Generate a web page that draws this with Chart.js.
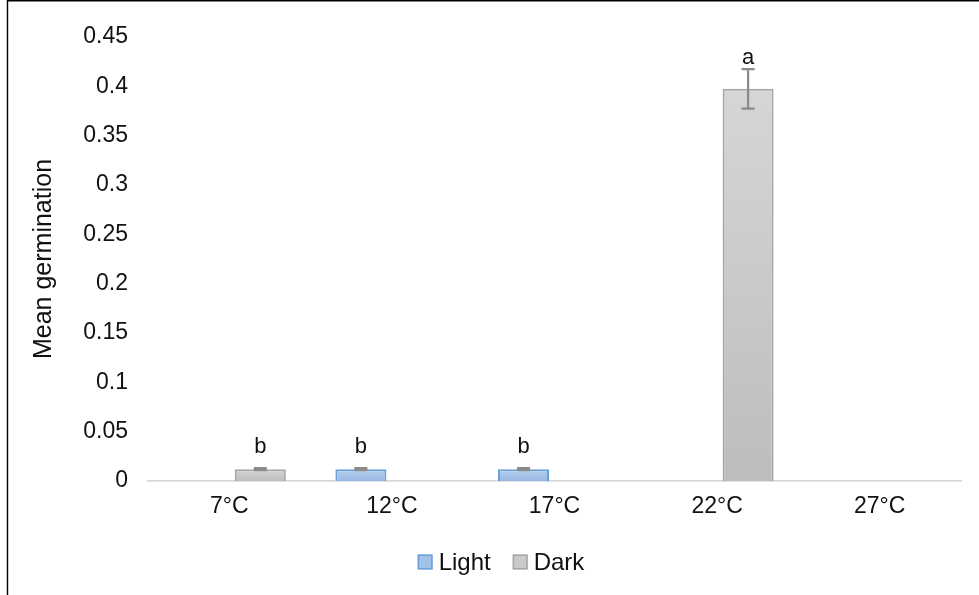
<!DOCTYPE html>
<html>
<head>
<meta charset="utf-8">
<script src="https://cdn.jsdelivr.net/npm/chart.js@4.4.1/dist/chart.umd.min.js"></script>
<style>
  html, body { margin: 0; padding: 0; background: #fff; }
  #chart { display: block; }
</style>
</head>
<body>
<canvas id="chart" width="979" height="595"></canvas>
<script>
// === DATA ===
const categories = ['7°C', '12°C', '17°C', '22°C', '27°C'];
const lightMeans = [0, 0.012, 0.012, 0, 0];
const darkMeans = [0.012, 0, 0, 0.3975, 0];
const lightErr = [0, 0.001, 0.001, 0, 0];
const darkErr = [0.001, 0, 0, 0.02, 0];
const lightLetters = ['', 'b', 'b', '', ''];
const darkLetters = ['b', '', '', 'a', ''];
const yMax = 0.45;
const yStep = 0.05;

const FONT = 'Liberation Sans, Arial, sans-serif';
const TEXT = '#111';

// per-bar vertical gradient, like the office fill
function barFill(top, bottom, flat) {
  return (c) => {
    const chart = c.chart;
    const y = chart.scales && chart.scales.y;
    if (!y || !chart.chartArea || c.raw == null) return flat;
    const yTop = y.getPixelForValue(c.raw);
    const yBot = y.getPixelForValue(0);
    if (yBot - yTop < 1) return flat;
    const g = chart.ctx.createLinearGradient(0, yTop, 0, yBot);
    g.addColorStop(0, top);
    g.addColorStop(1, bottom);
    return g;
  };
}

// white background and the outer frame (left and top edges show)
const frame = {
  id: 'frame',
  beforeDraw(chart) {
    const ctx = chart.ctx;
    ctx.save();
    ctx.fillStyle = '#fff';
    ctx.fillRect(0, 0, chart.width, chart.height);
    ctx.strokeStyle = '#000';
    ctx.lineWidth = 1.4;
    ctx.beginPath();
    ctx.moveTo(7.5, chart.height);
    ctx.lineTo(7.5, 0.7);
    ctx.lineTo(chart.width, 0.7);
    ctx.stroke();
    ctx.restore();
  }
};

// error bars + significance letters
const errorBars = {
  id: 'errorBars',
  afterDatasetsDraw(chart) {
    const ctx = chart.ctx;
    const y = chart.scales.y;
    ctx.save();
    chart.data.datasets.forEach((ds, i) => {
      const meta = chart.getDatasetMeta(i);
      meta.data.forEach((bar, j) => {
        const v = ds.data[j];
        const e = ds.errors[j];
        if (e > 0) {
          const y1 = y.getPixelForValue(v + e);
          const y2 = y.getPixelForValue(v - e);
          ctx.strokeStyle = '#8a8a8a';
          ctx.lineWidth = 2.2;
          ctx.beginPath();
          ctx.moveTo(bar.x, y1); ctx.lineTo(bar.x, y2);
          ctx.moveTo(bar.x - 6.5, y1); ctx.lineTo(bar.x + 6.5, y1);
          ctx.moveTo(bar.x - 6.5, y2); ctx.lineTo(bar.x + 6.5, y2);
          ctx.stroke();
        }
        const letter = ds.letters[j];
        if (letter) {
          const errTop = y.getPixelForValue(v + e);
          const base = Math.min(errTop - 5, bar.y - 16);
          ctx.fillStyle = TEXT;
          ctx.font = '22px ' + FONT;
          ctx.textAlign = 'center';
          ctx.textBaseline = 'alphabetic';
          ctx.fillText(letter, bar.x, base);
        }
      });
    });
    ctx.restore();
  }
};

// legend at the bottom, small square boxes
const bottomLegend = {
  id: 'bottomLegend',
  afterDraw(chart) {
    const ctx = chart.ctx;
    const box = 15, gap = 6, itemGap = 22;
    const cx = 501, cy = 562;
    ctx.save();
    ctx.font = '24px ' + FONT;
    ctx.textBaseline = 'middle';
    ctx.textAlign = 'left';
    const items = chart.data.datasets.map(ds => ({
      ds, w: box + gap + ctx.measureText(ds.label).width
    }));
    const total = items.reduce((s, it) => s + it.w, 0) + itemGap * (items.length - 1);
    let x = cx - total / 2;
    items.forEach(it => {
      ctx.fillStyle = it.ds.legendFill;
      ctx.fillRect(x, cy - box / 2, box, box);
      ctx.strokeStyle = it.ds.borderColor;
      ctx.lineWidth = 1.5;
      ctx.strokeRect(x + 0.75, cy - box / 2 + 0.75, box - 1.5, box - 1.5);
      ctx.fillStyle = TEXT;
      ctx.fillText(it.ds.label, x + box + gap, cy + 1);
      x += it.w + itemGap;
    });
    ctx.restore();
  }
};

new Chart(document.getElementById('chart'), {
  type: 'bar',
  data: {
    labels: categories,
    datasets: [{
      label: 'Light',
      data: lightMeans,
      errors: lightErr,
      letters: lightLetters,
      backgroundColor: barFill('#b6cfee', '#98b9e4', '#a6c4ea'),
      legendFill: '#a3c2e9',
      borderColor: '#6a9fd8',
      borderWidth: 2
    }, {
      label: 'Dark',
      data: darkMeans,
      errors: darkErr,
      letters: darkLetters,
      backgroundColor: barFill('#d6d6d6', '#bdbdbd', '#c9c9c9'),
      legendFill: '#c9c9c9',
      borderColor: '#a6a6a6',
      borderWidth: 2
    }]
  },
  options: {
    responsive: false,
    animation: false,
    devicePixelRatio: 1,
    categoryPercentage: 0.7626,
    barPercentage: 0.8226,
    layout: { padding: { left: 0, right: 18, top: 37, bottom: 74 } },
    plugins: {
      legend: { display: false },
      tooltip: { enabled: false }
    },
    scales: {
      x: {
        grid: { display: false, drawTicks: false },
        border: { display: true, color: '#d9d9d9', width: 1.8 },
        ticks: { color: TEXT, font: { family: FONT, size: 23 }, padding: 12, maxRotation: 0 },
        afterFit(s) { s.height = 40; }
      },
      y: {
        min: 0,
        max: yMax,
        grid: { display: false, drawTicks: false },
        border: { display: false },
        ticks: {
          stepSize: yStep,
          color: TEXT,
          font: { family: FONT, size: 23 },
          padding: 20,
          callback: v => String(+v.toFixed(2))
        },
        title: {
          display: true,
          text: 'Mean germination',
          color: TEXT,
          font: { family: FONT, size: 25 },
          padding: { top: 29, bottom: 0 }
        },
        afterFit(s) { s.width = 148; }
      }
    }
  },
  plugins: [frame, errorBars, bottomLegend]
});
</script>
</body>
</html>
